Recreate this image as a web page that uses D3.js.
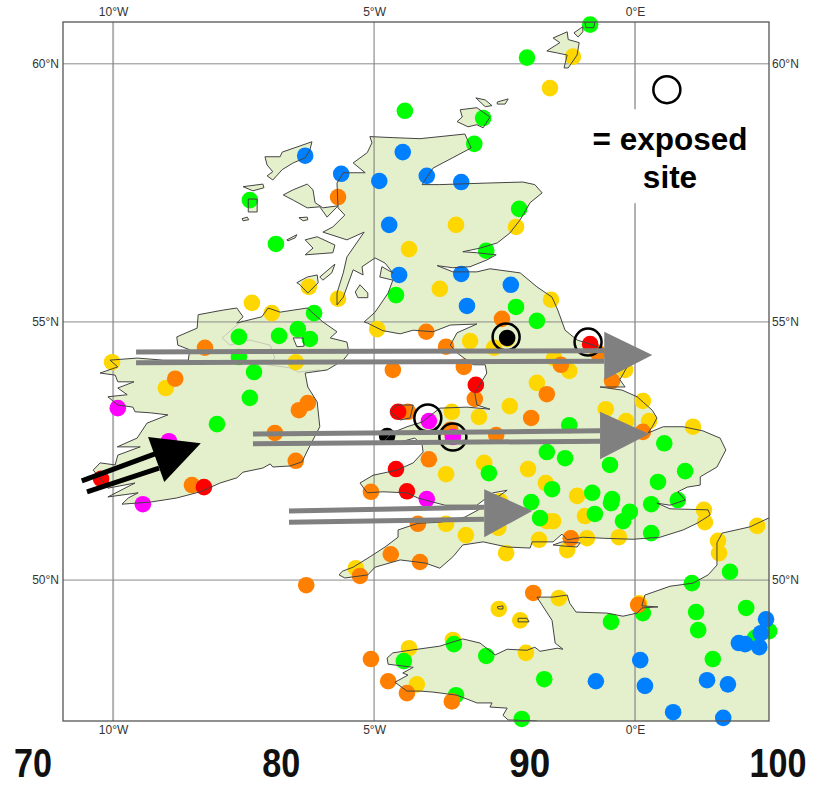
<!DOCTYPE html>
<html><head><meta charset="utf-8">
<script src="https://cdn.jsdelivr.net/npm/d3@7"></script>
<style>html,body{margin:0;padding:0;background:#fff}svg{display:block}</style>
</head><body><div id="c"></div>
<script>
// ---- Data (degrees longitude, latitude) ----
const lonTicks=[-10,-5,0], latTicks=[50,55,60];
const bottomTicks=[70,80,90,100];
const bottomTickWidths=[38,38,41,57];
const lonDomain=[-10.96,2.567], latDomain=[47.27,60.81];

const sitesYellow=[[-1.19,60.14],[-1.63,59.53],[-3.43,56.88],[-2.28,56.84],[-4.33,56.41],[-3.74,55.64],[-1.61,55.43],[-6.25,55.68],[-5.69,55.45],[-4.94,54.86],[-7.34,55.37],[-6.96,55.17],[-3.16,54.63],[-2.70,54.50],[-2.45,54.67],[-10.02,54.22],[-6.50,54.22],[-8.99,53.72],[-1.55,54.30],[-1.26,54.05],[-1.88,53.82],[-0.19,54.07],[0.15,53.47],[-2.40,53.37],[-0.56,53.31],[-0.17,53.08],[0.27,53.08],[1.11,52.97],[-3.51,53.26],[-2.99,53.16],[-2.89,52.27],[-2.05,52.15],[-3.62,52.05],[-1.71,51.88],[-1.11,51.63],[-2.59,51.53],[1.32,51.36],[-0.96,51.24],[-1.57,51.14],[-1.69,51.14],[1.34,51.12],[-3.62,51.09],[-2.62,51.01],[-3.24,50.87],[-1.23,50.81],[-1.84,50.78],[-0.92,50.81],[-0.31,50.83],[-1.30,50.58],[-2.47,50.52],[-5.35,50.23],[1.59,50.76],[1.61,50.52],[-1.46,49.65],[0.08,49.55],[-2.61,49.44],[-2.20,49.22],[-3.49,48.84],[-4.33,48.68],[-2.09,48.59],[-4.18,47.98],[2.34,51.05]];
const sitesGreen=[[-0.86,60.76],[-2.07,60.12],[-4.41,59.09],[-2.91,58.95],[-3.08,58.45],[-7.38,57.36],[-2.22,57.19],[-6.88,56.51],[-2.85,56.38],[-4.58,55.52],[-2.28,55.29],[-6.15,55.17],[-1.88,55.02],[-6.46,54.86],[-6.82,54.73],[-7.59,54.71],[-6.23,54.67],[-7.59,54.32],[-7.30,54.03],[-7.38,53.53],[-8.01,53.02],[-1.26,53.00],[0.56,52.65],[-1.69,52.48],[-1.34,52.36],[-2.80,52.07],[-0.48,52.23],[0.96,52.11],[0.44,51.90],[-1.59,51.76],[-0.82,51.69],[-0.44,51.57],[-0.46,51.49],[0.31,51.47],[0.82,51.55],[-1.99,51.51],[-0.10,51.32],[-0.23,51.14],[-0.77,51.28],[-1.82,51.20],[0.31,50.91],[1.82,50.16],[1.09,49.94],[0.15,49.36],[-0.46,49.19],[1.17,49.38],[2.13,49.46],[2.57,49.01],[1.21,49.03],[2.30,48.88],[-3.47,48.76],[-2.85,48.53],[-4.43,48.43],[1.49,48.47],[-1.74,48.08],[-3.43,47.77],[-2.17,47.31]];
const sitesBlue=[[-6.32,58.22],[-5.63,57.87],[-4.90,57.73],[-4.45,58.29],[-3.99,57.83],[-3.33,57.71],[-4.71,56.88],[-4.52,55.91],[-3.33,55.93],[-2.38,55.72],[-3.22,55.31],[2.51,49.24],[2.41,48.97],[1.99,48.78],[2.11,48.76],[2.38,48.70],[0.10,48.45],[-0.75,48.04],[1.38,48.06],[1.78,47.98],[0.19,47.95],[0.73,47.44],[1.69,47.33]];
const sitesOrange=[[-5.69,57.42],[-2.55,55.06],[-4.00,54.81],[-3.62,54.52],[-8.24,54.50],[-8.81,53.90],[-6.27,53.43],[-6.44,53.29],[-6.90,52.85],[-6.50,52.31],[-8.49,51.84],[-6.30,49.90],[-4.64,54.07],[-4.35,53.26],[-5.06,51.71],[-4.68,50.50],[-5.27,50.08],[-0.71,54.40],[-1.42,54.17],[-3.28,54.13],[-1.69,53.60],[-0.44,53.86],[-3.07,53.51],[-1.99,53.14],[0.15,52.87],[-3.54,52.91],[-2.66,52.81],[-3.95,52.34],[-4.16,51.09],[-1.23,50.81],[-4.12,50.35],[-1.95,49.75],[0.06,49.52],[-5.06,48.47],[-4.73,48.04],[-4.37,47.81],[-3.51,47.65]];
const sitesRed=[[-0.86,54.57],[-10.23,51.96],[-8.26,51.80],[-4.54,53.26],[-4.58,52.15],[-4.37,51.72],[-3.05,53.78]];
const sitesMagenta=[[-9.91,53.33],[-8.93,52.69],[-9.43,51.47],[-3.95,53.08],[-3.49,52.77],[-3.99,51.57]];
const sitesBlack=[[-2.45,54.69],[-4.75,52.79]];
const exposedSites=[[-2.47,54.71],[-0.90,54.61],[-3.97,53.14],[-3.49,52.77]];
const legendRing=[0.61,59.50];

const coastBritain=[[-5.08,58.59],[-4.64,58.57],[-4.12,58.55],[-3.26,58.64],[-3.14,58.37],[-3.87,57.98],[-4.08,57.66],[-3.74,57.66],[-2.84,57.69],[-2.15,57.71],[-1.92,57.66],[-1.78,57.50],[-2.01,57.31],[-2.20,56.98],[-2.40,56.72],[-2.64,56.53],[-2.97,56.43],[-3.30,56.36],[-3.03,56.34],[-2.66,56.30],[-2.84,56.20],[-3.16,56.07],[-3.49,56.05],[-3.79,56.09],[-3.49,55.97],[-3.03,55.97],[-2.78,56.03],[-2.20,55.95],[-1.88,55.68],[-1.59,55.48],[-1.48,55.23],[-1.34,54.84],[-1.11,54.65],[-0.80,54.55],[-0.48,54.42],[-0.13,54.17],[-0.29,53.88],[-0.19,53.74],[-0.67,53.74],[-0.25,53.68],[0.04,53.55],[0.33,53.29],[0.42,53.14],[0.33,52.97],[0.25,52.85],[0.54,52.97],[0.92,52.97],[1.30,52.89],[1.63,52.75],[1.74,52.52],[1.57,52.19],[1.25,52.00],[1.25,51.84],[1.00,51.80],[0.82,51.71],[0.96,51.55],[0.67,51.45],[0.42,51.49],[0.67,51.38],[1.40,51.36],[1.44,51.26],[1.19,51.10],[0.92,50.97],[0.48,50.83],[-0.04,50.79],[-0.61,50.81],[-1.00,50.83],[-1.30,50.78],[-1.40,50.89],[-1.57,50.74],[-1.97,50.74],[-2.01,50.62],[-2.45,50.64],[-2.91,50.74],[-3.30,50.68],[-3.49,50.45],[-3.74,50.23],[-4.02,50.33],[-4.50,50.39],[-4.98,50.25],[-5.12,50.10],[-5.56,50.04],[-5.67,50.10],[-5.61,50.17],[-5.40,50.25],[-5.08,50.45],[-4.79,50.64],[-4.54,50.83],[-4.54,50.97],[-4.16,51.10],[-3.74,51.12],[-3.26,51.22],[-2.91,51.41],[-2.45,51.74],[-2.72,51.69],[-3.03,51.45],[-3.64,51.45],[-3.87,51.51],[-4.16,51.59],[-4.37,51.69],[-4.83,51.71],[-5.13,51.69],[-5.27,51.88],[-5.02,52.03],[-4.56,52.13],[-4.25,52.27],[-4.06,52.48],[-4.08,52.62],[-4.22,52.75],[-4.60,52.65],[-4.79,52.71],[-4.66,52.85],[-4.37,52.97],[-4.08,53.06],[-3.74,53.33],[-3.22,53.35],[-2.78,53.31],[-3.03,53.39],[-3.07,53.62],[-2.84,54.01],[-2.87,54.17],[-3.10,54.17],[-3.41,54.40],[-3.54,54.55],[-3.41,54.79],[-3.03,54.96],[-3.54,54.94],[-3.87,54.81],[-4.25,54.84],[-4.50,54.77],[-4.83,54.83],[-5.13,54.98],[-5.19,55.00],[-4.98,55.19],[-4.73,55.56],[-4.64,55.81],[-4.89,55.87],[-4.85,56.07],[-4.64,55.95],[-4.79,56.14],[-4.98,56.24],[-5.23,56.07],[-5.21,55.91],[-5.40,56.01],[-5.59,55.48],[-5.71,55.33],[-5.71,55.56],[-5.59,55.95],[-5.52,56.26],[-5.19,56.74],[-5.52,56.59],[-5.98,56.74],[-5.79,56.84],[-5.56,57.07],[-5.69,57.21],[-5.71,57.69],[-5.59,57.89],[-5.17,57.89],[-5.40,58.08],[-5.13,58.28],[-5.04,58.47]];
const coastIreland=[[-8.78,54.71],[-8.39,54.88],[-8.37,55.14],[-7.89,55.23],[-7.63,55.27],[-7.51,55.10],[-7.63,54.98],[-7.15,55.10],[-7.03,55.27],[-6.80,55.19],[-6.28,55.27],[-5.98,55.00],[-5.71,54.81],[-5.84,54.69],[-5.52,54.61],[-5.48,54.40],[-5.59,54.26],[-5.90,54.07],[-6.32,54.01],[-6.27,53.74],[-6.09,53.45],[-6.04,52.97],[-6.27,52.52],[-6.38,52.29],[-6.61,52.21],[-6.94,52.19],[-6.99,52.25],[-7.13,52.17],[-7.51,52.09],[-7.63,51.98],[-7.95,51.88],[-8.33,51.71],[-8.78,51.59],[-9.29,51.51],[-9.83,51.47],[-9.71,51.59],[-9.52,51.69],[-10.10,51.61],[-9.58,51.88],[-10.10,51.78],[-10.38,52.13],[-10.25,52.27],[-9.96,52.23],[-9.91,52.42],[-9.48,52.58],[-9.92,52.58],[-9.54,52.75],[-9.35,53.04],[-8.95,53.20],[-9.29,53.24],[-9.58,53.26],[-9.62,53.35],[-9.91,53.39],[-10.10,53.55],[-9.73,53.59],[-9.91,53.72],[-9.60,53.84],[-9.91,53.84],[-9.96,53.97],[-10.25,54.01],[-9.91,54.13],[-10.06,54.26],[-9.54,54.30],[-9.04,54.26],[-8.56,54.26],[-8.53,54.46],[-8.76,54.55]];
const coastFrance=[[-1.88,49.67],[-1.57,49.67],[-1.30,49.71],[-1.25,49.55],[-1.13,49.38],[-0.54,49.36],[-0.23,49.30],[0.04,49.36],[0.13,49.46],[0.44,49.48],[0.13,49.50],[0.19,49.71],[0.67,49.88],[1.11,49.94],[1.40,50.10],[1.57,50.29],[1.57,50.72],[1.67,50.91],[2.20,51.03],[2.60,51.22],[2.60,47.20],[-1.88,47.20],[-1.88,47.27],[-2.43,47.29],[-2.53,47.38],[-2.45,47.52],[-2.78,47.54],[-2.74,47.62],[-3.03,47.62],[-3.41,47.77],[-3.87,47.83],[-4.12,47.85],[-4.37,47.85],[-4.60,48.02],[-4.35,48.16],[-4.45,48.20],[-4.25,48.31],[-4.73,48.37],[-4.75,48.49],[-4.64,48.59],[-4.31,48.64],[-3.74,48.72],[-3.30,48.86],[-2.97,48.78],[-2.68,48.55],[-2.45,48.66],[-2.07,48.64],[-1.92,48.70],[-1.82,48.62],[-1.49,48.68],[-1.38,48.66],[-1.53,48.78],[-1.59,49.22]];
const coastIslands=[
 [[-5.36,55.58],[-5.27,55.72],[-5.12,55.56],[-5.12,55.47],[-5.31,55.47]],
 [[-4.69,53.26],[-4.56,53.39],[-4.25,53.39],[-4.31,53.14],[-4.50,53.10]],
 [[-7.09,58.20],[-6.80,58.20],[-6.76,58.29],[-6.19,58.49],[-6.23,58.33],[-6.32,58.18],[-6.55,58.08],[-6.76,57.95],[-6.94,57.75],[-7.05,57.83],[-6.94,57.91],[-7.05,58.04]],
 [[-7.51,57.62],[-7.13,57.67],[-7.11,57.60],[-7.32,57.54]],
 [[-6.74,57.46],[-6.55,57.56],[-6.28,57.67],[-6.17,57.56],[-6.13,57.31],[-5.98,57.21],[-5.69,57.25],[-5.90,57.03],[-6.04,57.23],[-6.28,57.21],[-6.55,57.36]],
 [[-7.41,57.38],[-7.24,57.38],[-7.24,57.13],[-7.41,57.13]],
 [[-7.53,57.00],[-7.43,57.03],[-7.40,56.98],[-7.51,56.96]],
 [[-6.44,57.02],[-6.28,57.03],[-6.27,56.98],[-6.36,56.96]],
 [[-6.67,56.59],[-6.48,56.69],[-6.51,56.63],[-6.65,56.57]],
 [[-6.32,56.59],[-6.09,56.65],[-5.75,56.49],[-5.79,56.34],[-6.32,56.30],[-6.17,56.43]],
 [[-6.04,55.87],[-5.75,56.12],[-5.81,55.95],[-5.98,55.81]],
 [[-6.48,55.76],[-6.28,55.87],[-6.09,55.91],[-6.07,55.76],[-6.27,55.56],[-6.42,55.72]],
 [[-3.35,59.11],[-3.03,59.15],[-2.78,58.97],[-2.91,58.76],[-3.03,58.82],[-3.20,58.78],[-3.41,58.88],[-3.31,58.97]],
 [[-3.05,59.34],[-2.87,59.30],[-2.74,59.19],[-2.87,59.17]],
 [[-2.64,59.26],[-2.43,59.32],[-2.49,59.22],[-2.64,59.22]],
 [[-1.57,60.50],[-1.30,60.62],[-1.28,60.47],[-1.07,60.41],[-1.11,60.17],[-1.28,59.92],[-1.36,59.92],[-1.30,60.17],[-1.49,60.21],[-1.69,60.25],[-1.44,60.41]],
 [[-1.17,60.60],[-1.00,60.72],[-1.00,60.62],[-1.09,60.52]],
 [[-0.96,60.81],[-0.77,60.81],[-0.79,60.70],[-0.94,60.70]],
 [[-2.64,49.48],[-2.53,49.50],[-2.53,49.44],[-2.62,49.44]],
 [[-2.24,49.26],[-2.07,49.26],[-2.03,49.19],[-2.24,49.19]],
 [[-1.57,50.68],[-1.40,50.74],[-1.05,50.72],[-1.11,50.64],[-1.38,50.66]]
];
const loughNeagh=[[-6.55,54.69],[-6.36,54.69],[-6.34,54.53],[-6.48,54.52]];
const borderNI=[[-7.51,55.04],[-7.91,54.69],[-7.76,54.55],[-7.38,54.65],[-6.99,54.55],[-6.90,54.30],[-7.03,54.17],[-6.61,54.11],[-6.46,54.03],[-6.04,54.07]];

const arrowsGrey=[
 {a:[[-9.56,54.42],[-0.59,54.44]],b:[[-9.56,54.21],[-0.59,54.24]],head:[[-0.59,54.81],[0.33,54.36],[-0.59,53.88]]},
 {a:[[-7.32,52.83],[-0.67,52.89]],b:[[-7.32,52.64],[-0.67,52.69]],head:[[-0.67,53.26],[0.27,52.83],[-0.67,52.34]]},
 {a:[[-6.63,51.34],[-2.89,51.41]],b:[[-6.63,51.12],[-2.89,51.18]],head:[[-2.89,51.76],[-1.97,51.34],[-2.89,50.83]]}
];
const arrowBlack={a:[[-10.60,51.92],[-9.16,52.46]],b:[[-10.50,51.71],[-9.12,52.17]],head:[[-9.33,52.77],[-8.32,52.65],[-9.02,51.90]]};

// ---- Chart ----
const W=817,H=786,L=63,R=769,T=22,B=721;
const x=d3.scaleLinear().domain(lonDomain).range([L,R]);
const y=d3.scaleLinear().domain(latDomain).range([B,T]);
const bx=d3.scaleLinear().domain([70,100]).range([33,778]);
const svg=d3.select("#c").append("svg").attr("width",W).attr("height",H).style("font-family","'Liberation Sans',Arial,sans-serif");
svg.append("defs").append("clipPath").attr("id","f").append("rect").attr("x",L).attr("y",T).attr("width",R-L).attr("height",B-T);
const line=d3.line().x(d=>x(d[0])).y(d=>y(d[1]));
const closed=d=>line(d)+"Z";
const mapG=svg.append("g").attr("clip-path","url(#f)");
const landShapes=[coastBritain,coastIreland,coastFrance,...coastIslands];
const landFill="#e4f0cb";

mapG.append("g").selectAll("path").data(landShapes).join("path").attr("d",closed).attr("fill",landFill);
mapG.append("path").attr("d",closed(loughNeagh)).attr("fill","#fff");
mapG.append("path").attr("d",line(borderNI)).attr("fill","none").attr("stroke","#c4c9b8").attr("stroke-width",1);

// grid
const vStyle={"-10":["#b0b0b0",2],"-5":["#777",1],"0":["#999",1.5]};
mapG.append("g").selectAll("line").data(lonTicks).join("line")
  .attr("x1",d=>x(d)).attr("x2",d=>x(d)).attr("y1",T).attr("y2",B)
  .attr("stroke",d=>vStyle[d][0]).attr("stroke-width",d=>vStyle[d][1]);
mapG.append("g").selectAll("line").data(latTicks).join("line")
  .attr("x1",L).attr("x2",R).attr("y1",d=>y(d)).attr("y2",d=>y(d))
  .attr("stroke","#8a8a8a").attr("stroke-width",1);

// white panel behind the key
svg.append("rect").attr("x",x(-0.85)).attr("y",y(59.12)).attr("width",x(2.2)-x(-0.85)).attr("height",y(57.3)-y(59.12)).attr("fill","#fff");

// sites
const classes=[[sitesYellow,"#ffd700"],[sitesGreen,"#00ff00"],[sitesBlue,"#0080ff"],[sitesOrange,"#ff8000"],[sitesRed,"#ff0000"],[sitesMagenta,"#ff00ff"],[sitesBlack,"#000"]];
const siteG=svg.append("g");
classes.forEach(([arr,col])=>{
  siteG.append("g").selectAll("circle").data(arr).join("circle")
   .attr("cx",d=>x(d[0])).attr("cy",d=>y(d[1])).attr("r",8.3).attr("fill",col);
});

// coast lines on top of the dots
const coastG=svg.append("g").attr("clip-path","url(#f)");
coastG.selectAll("path").data([...landShapes,loughNeagh]).join("path").attr("d",closed)
  .attr("fill","none").attr("stroke","#444").attr("stroke-width",1);

// frame
svg.append("rect").attr("x",L).attr("y",T).attr("width",R-L).attr("height",B-T).attr("fill","none").attr("stroke","#555").attr("stroke-width",1.3);

// rings
svg.append("g").selectAll("circle").data([...exposedSites,legendRing]).join("circle")
  .attr("cx",d=>x(d[0])).attr("cy",d=>y(d[1])).attr("r",13.5)
  .attr("fill","none").attr("stroke","#000").attr("stroke-width",2.5);

// arrows
function drawArrow(g,ar,col,w){
  [ar.a,ar.b].forEach(s=>g.append("path").attr("d",line(s)).attr("stroke",col).attr("stroke-width",w).attr("fill","none"));
  g.append("path").attr("d",closed(ar.head)).attr("fill",col);
}
const arrG=svg.append("g");
arrowsGrey.forEach(a=>drawArrow(arrG,a,"#808080",5));
drawArrow(arrG,arrowBlack,"#000",5);

// axes
function styleAxis(g){
  g.select(".domain").remove();
  g.selectAll("text").attr("fill","#333").style("font-size","12px").style("font-family","'Liberation Sans',Arial,sans-serif");
}
const fmtLon=d=>d===0?"0°E":Math.abs(d)+"°W", fmtLat=d=>d+"°N";
svg.append("g").attr("transform",`translate(0,${T})`).call(d3.axisTop(x).tickValues(lonTicks).tickFormat(fmtLon).tickSize(0).tickPadding(6)).call(styleAxis);
svg.append("g").attr("transform",`translate(0,${B})`).call(d3.axisBottom(x).tickValues(lonTicks).tickFormat(fmtLon).tickSize(0).tickPadding(4)).call(styleAxis);
svg.append("g").attr("transform",`translate(${L},0)`).call(d3.axisLeft(y).tickValues(latTicks).tickFormat(fmtLat).tickSize(0).tickPadding(4)).call(styleAxis);
svg.append("g").attr("transform",`translate(${R},0)`).call(d3.axisRight(y).tickValues(latTicks).tickFormat(fmtLat).tickSize(0).tickPadding(3)).call(styleAxis);

// big scale numbers
svg.append("g").selectAll("text").data(bottomTicks).join("text")
  .attr("x",d=>bx(d)).attr("y",777).attr("text-anchor","middle")
  .attr("font-size",40).attr("font-weight","bold").attr("fill","#111")
  .attr("textLength",(d,i)=>bottomTickWidths[i]).attr("lengthAdjust","spacingAndGlyphs").text(d=>d);

// key text
svg.append("g").selectAll("text").data(["= exposed","site"]).join("text")
  .attr("x",670).attr("y",(d,i)=>150+i*38).attr("text-anchor","middle")
  .attr("font-size",31.5).attr("font-weight","bold").attr("fill","#000").text(d=>d);
</script></body></html>
